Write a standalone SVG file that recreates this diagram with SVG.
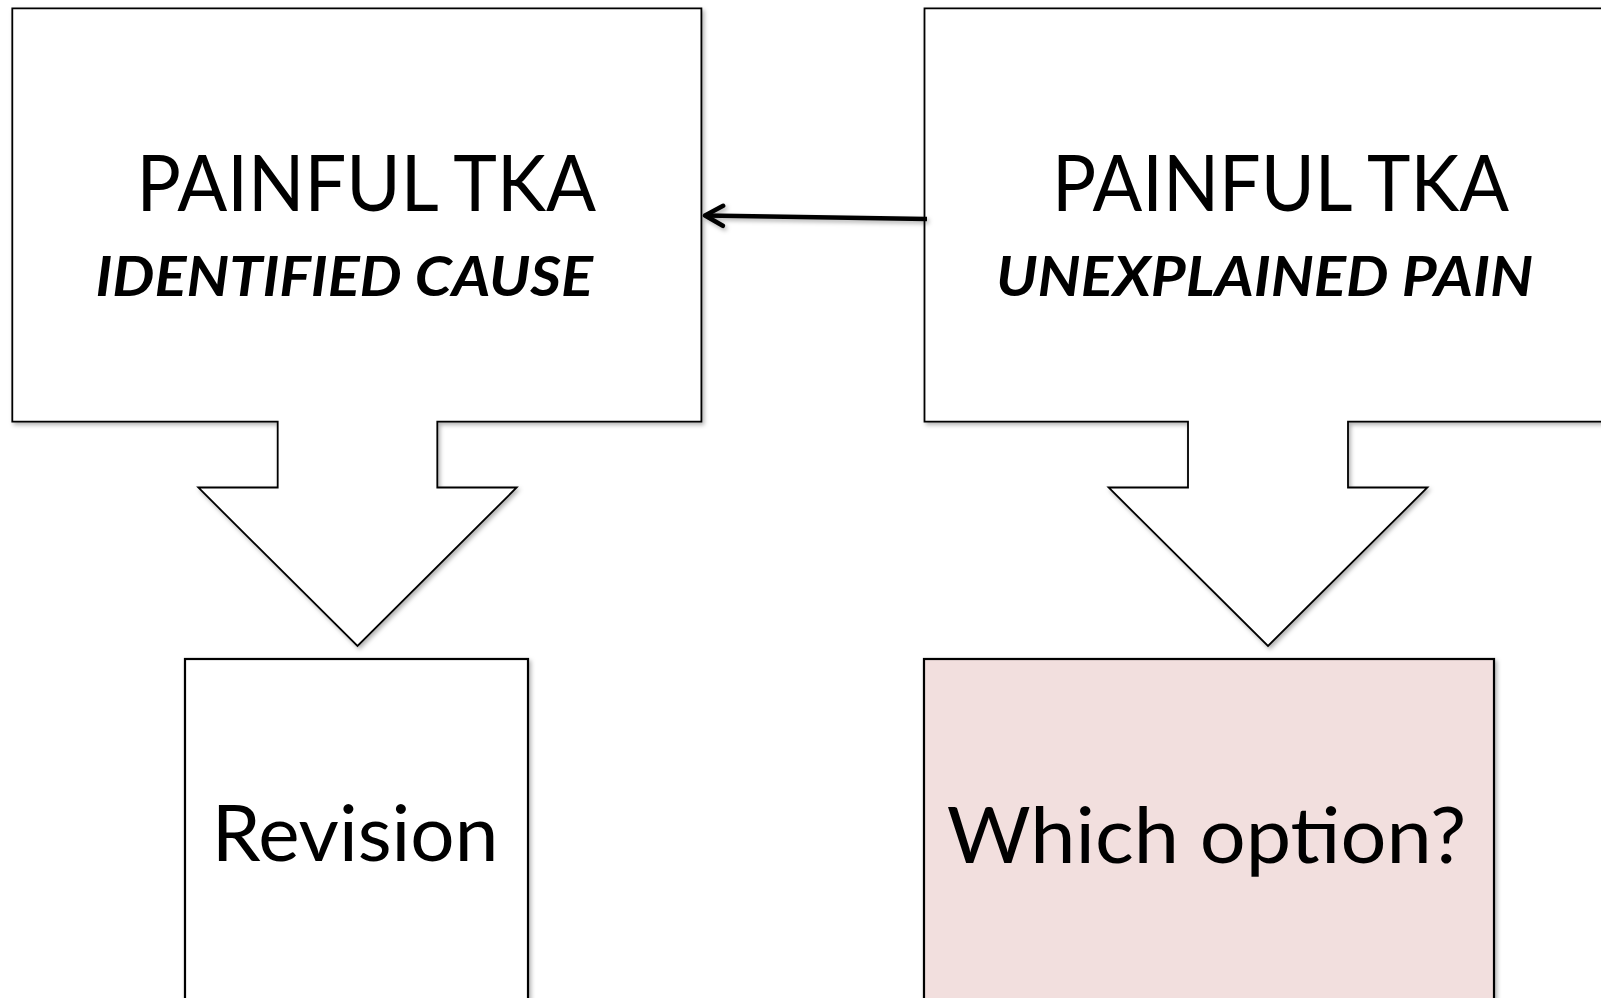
<svg xmlns="http://www.w3.org/2000/svg" width="1601" height="998" viewBox="0 0 1601 998">
<style>
.shape{stroke:#000;stroke-width:1.8;filter:url(#sh)}
.box{stroke:#000;stroke-width:2.2;filter:url(#sh)}
.t{font-family:Lato,"Open Sans","Liberation Sans",sans-serif;fill:#000}
.title{font-size:78px}
.sub{font-size:55px;font-weight:bold;font-style:italic}
.big{font-size:78px}
.conn{stroke:#000;stroke-width:4.5;fill:none}
</style>
<defs>
<filter id="sh" filterUnits="userSpaceOnUse" x="0" y="0" width="1601" height="998">
<feDropShadow dx="2" dy="2.5" stdDeviation="2" flood-color="#000" flood-opacity="0.3"/>
</filter>
<marker id="chev" viewBox="0 0 26 26" refX="23" refY="13" markerWidth="26" markerHeight="26" markerUnits="userSpaceOnUse" orient="auto">
<path d="M5,3 L23,13 L5,23" fill="none" stroke="#000" stroke-width="4.5" stroke-linecap="round" stroke-linejoin="round"/>
</marker>
</defs>
<rect width="1601" height="998" fill="#fff"/>
<g id="node-identified">
<path class="shape" fill="#fff" d="M12.3,8.3 H701.4 V421.7 H437.3 V487.5 H516.7 L357.5,646 L198.3,487.5 H277.7 V421.7 H12.3 Z"/>
<text class="t title" x="136.5" y="211" textLength="459.5" lengthAdjust="spacingAndGlyphs">PAINFUL TKA</text>
<text class="t sub" x="95.5" y="296" textLength="497.5" lengthAdjust="spacingAndGlyphs">IDENTIFIED CAUSE</text>
</g>
<g id="node-unexplained">
<path class="shape" fill="#fff" d="M924.5,8.3 H1612 V421.7 H1348 V487.5 H1427.4 L1268,646 L1108.6,487.5 H1188 V421.7 H924.5 Z"/>
<text class="t title" x="1052" y="211" textLength="457" lengthAdjust="spacingAndGlyphs">PAINFUL TKA</text>
<text class="t sub" x="996" y="296" textLength="537" lengthAdjust="spacingAndGlyphs">UNEXPLAINED PAIN</text>
</g>
<g id="node-revision">
<rect class="box" x="185" y="659" width="343" height="360" fill="#fff"/>
<text class="t big" x="211.7" y="861" textLength="286.6" lengthAdjust="spacingAndGlyphs">Revision</text>
</g>
<g id="node-which">
<rect class="box" x="924" y="659" width="570" height="360" fill="#F2DFDE"/>
<text class="t big" x="946.7" y="862.5" textLength="519.5" lengthAdjust="spacingAndGlyphs">Which option?</text>
</g>
<g id="connectors" filter="url(#sh)">
<line class="conn" x1="927" y1="219" x2="705" y2="215.5" marker-end="url(#chev)"/>
</g>
</svg>
